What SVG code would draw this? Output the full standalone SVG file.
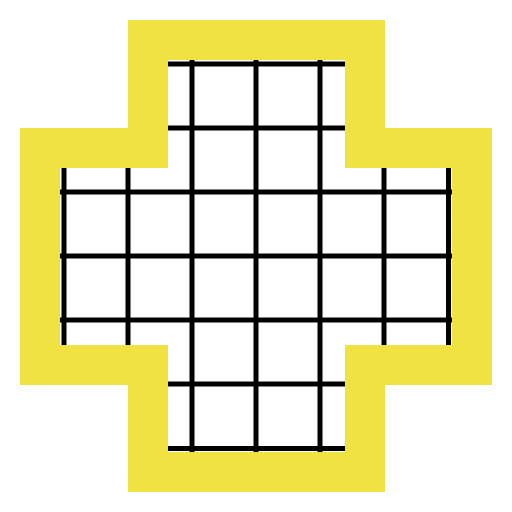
<svg xmlns="http://www.w3.org/2000/svg" width="512" height="512" viewBox="0 0 512 512">
  <style>
    .frame { fill: #f0e341; fill-rule: evenodd; }
    .grid line { stroke: #000; stroke-width: 5; }
  </style>
  <defs>
    <clipPath id="inner">
      <path d="M168 60 H345 V168 H452 V345 H345 V452 H168 V345 H60 V168 H168 Z"/>
    </clipPath>
  </defs>
  <rect width="512" height="512" fill="#fff"/>
  <g id="grid" class="grid" clip-path="url(#inner)">
    <line x1="0" y1="64" x2="512" y2="64"/>
    <line x1="0" y1="128" x2="512" y2="128"/>
    <line x1="0" y1="192" x2="512" y2="192"/>
    <line x1="0" y1="256" x2="512" y2="256"/>
    <line x1="0" y1="320" x2="512" y2="320"/>
    <line x1="0" y1="384" x2="512" y2="384"/>
    <line x1="0" y1="448.5" x2="512" y2="448.5"/>
    <line x1="64" y1="0" x2="64" y2="512"/>
    <line x1="128" y1="0" x2="128" y2="512"/>
    <line x1="192" y1="0" x2="192" y2="512"/>
    <line x1="256" y1="0" x2="256" y2="512"/>
    <line x1="320" y1="0" x2="320" y2="512"/>
    <line x1="384" y1="0" x2="384" y2="512"/>
    <line x1="448.5" y1="0" x2="448.5" y2="512"/>
  </g>
  <g id="frame">
    <path class="frame" d="M128 20 H385 V128 H492 V385 H385 V492 H128 V385 H20 V128 H128 Z M168 60 V168 H60 V345 H168 V452 H345 V345 H452 V168 H345 V60 Z"/>
  </g>
</svg>
